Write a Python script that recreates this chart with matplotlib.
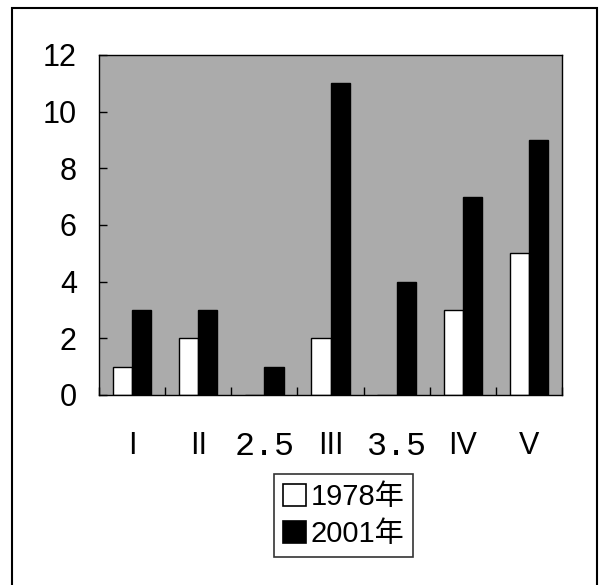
import matplotlib
matplotlib.use("Agg")
import matplotlib.pyplot as plt
import numpy as np
from matplotlib.patches import Rectangle, Patch

plt.rcParams['font.family'] = ['Liberation Sans', 'Noto Sans CJK JP', 'DejaVu Sans']

categories = ["I", "II", "2.5", "III", "3.5", "IV", "V"]
values_1978 = [1, 2, 0, 2, 0, 3, 5]
values_2001 = [3, 3, 1, 11, 4, 7, 9]
series_labels = ["1978年", "2001年"]
y_ticks = [0, 2, 4, 6, 8, 10, 12]

W, H = 602, 585
fig = plt.figure(figsize=(W / 100, H / 100), dpi=100)
fig.patch.set_facecolor("white")

ax = fig.add_axes([99 / W, 1 - 395 / H, (562 - 99) / W, (395 - 55) / H])
ax.set_facecolor("#ababab")

x = np.arange(len(categories))
bw = 0.29
ax.bar(x - bw / 2, values_1978, width=bw, color="white", edgecolor="black", linewidth=1.0)
ax.bar(x + bw / 2, values_2001, width=bw, color="black", edgecolor="black", linewidth=1.0)

ax.set_xlim(-0.5, len(categories) - 0.5)
ax.set_ylim(0, 12)
ax.set_yticks(y_ticks)
ax.set_yticklabels([str(v) for v in y_ticks], fontsize=22)
ax.set_xticks(x)
ax.set_xticklabels(categories, fontsize=22)
for lab in ax.get_xticklabels():
    if "." in lab.get_text():
        lab.set_family(['Liberation Mono', 'DejaVu Sans Mono'])
        lab.set_fontsize(24)
ax.set_xticks(np.arange(len(categories) + 1) - 0.5, minor=True)
ax.tick_params(axis="x", which="major", length=0, pad=26)
ax.tick_params(axis="x", which="minor", direction="in", length=6, width=1)
ax.tick_params(axis="y", direction="in", length=6, width=1, pad=16)
for s in ax.spines.values():
    s.set_linewidth(1.0)
    s.set_color("black")

handles = [Patch(facecolor="white", edgecolor="black", linewidth=1.2),
           Patch(facecolor="black", edgecolor="black", linewidth=1.2)]
leg = fig.legend(handles, series_labels, loc="center",
                 bbox_to_anchor=(343.5 / W, 1 - 515.5 / H), fontsize=21,
                 frameon=True, fancybox=False, edgecolor="black",
                 handlelength=0.8, handleheight=0.8, handletextpad=0.15,
                 labelspacing=0.3, borderpad=0.3, borderaxespad=0)
leg.get_frame().set_linewidth(1.2)

fig.add_artist(Rectangle((12 / W, -0.02), (597 - 12) / W, 1.02 - 8 / H,
                         transform=fig.transFigure, fill=False,
                         edgecolor="black", linewidth=1.5))

fig.savefig("out.png", dpi=100, facecolor="white")
